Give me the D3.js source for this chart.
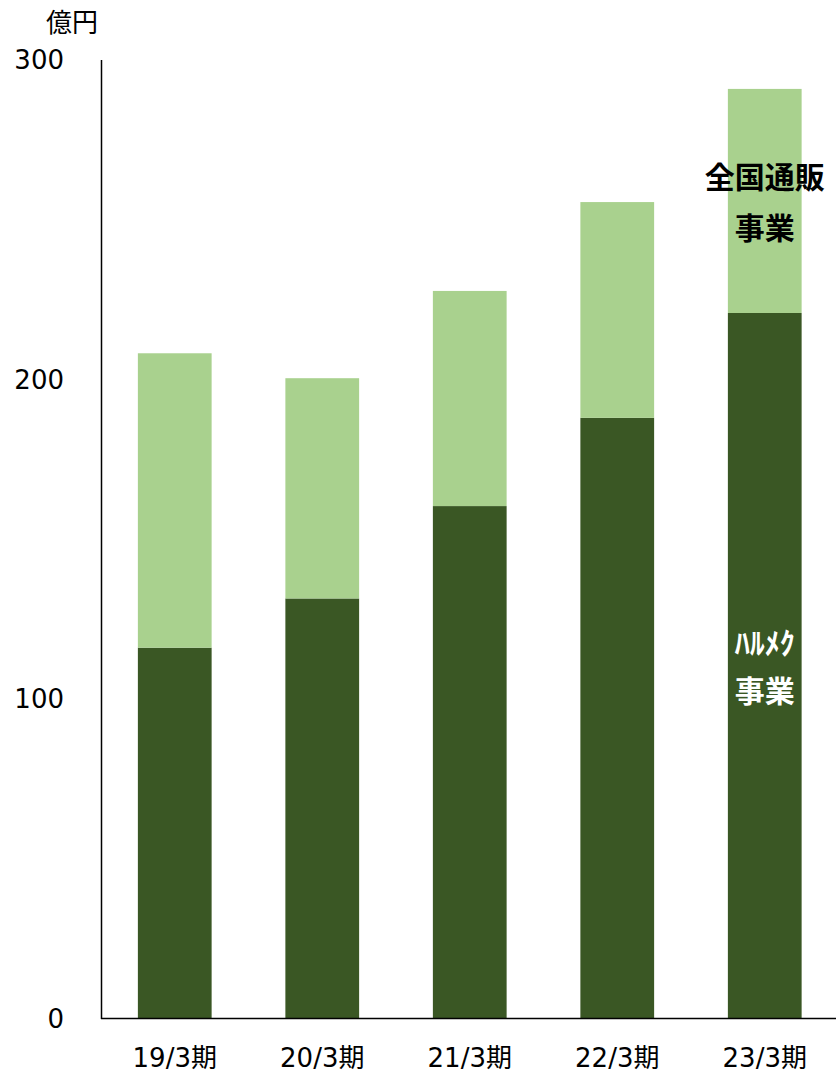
<!DOCTYPE html>
<html><head><meta charset="utf-8">
<script src="https://cdn.jsdelivr.net/npm/d3@7"></script>
<style>
body{margin:0;background:#fff;}
text{font-family:"DejaVu Sans","Noto Sans CJK JP",sans-serif;}
</style></head>
<body>
<svg id="c" width="836" height="1076"></svg>
<script>
const categories = ["19/3期","20/3期","21/3期","22/3期","23/3期"];
const harumekValues = [116.0, 131.4, 160.3, 187.9, 220.7];
const tsuhanValues = [92.1, 68.9, 67.3, 67.5, 70.1];
const tickValues = [0, 100, 200, 300];
const seriesNames = ["ハルメク事業","全国通販事業"];
const colors = ["#3A5724","#A9D18E"];

const svg = d3.select("#c");
const x = d3.scaleBand().domain(categories).range([101, 838.5]).paddingInner(0.5).paddingOuter(0.25);
const y = d3.scaleLinear().domain([0, 300]).range([1018.5, 59.5]);

const rows = categories.map((c,i)=>({cat:c, harumek:harumekValues[i], tsuhan:tsuhanValues[i]}));
const stack = d3.stack().keys(["harumek","tsuhan"])(rows);

svg.selectAll("g.s").data(stack).join("g").attr("fill",(d,i)=>colors[i])
  .selectAll("rect").data(d=>d).join("rect")
  .attr("x", d=>x(d.data.cat)).attr("width", x.bandwidth())
  .attr("y", d=>y(d[1])).attr("height", d=>y(d[0])-y(d[1]));

// y axis
const ya = svg.append("g").attr("transform","translate(101,0)")
  .call(d3.axisLeft(y).tickValues(tickValues).tickSize(0).tickPadding(37));
ya.select(".domain").attr("stroke","#000").attr("stroke-width",1.5);
ya.selectAll("text").attr("font-size",26).attr("fill","#000").attr("dy","0.35em")
  .style("font-family",'"DejaVu Sans","Noto Sans CJK JP",sans-serif');

// x axis
const xa = svg.append("g").attr("transform","translate(0,1018.5)")
  .call(d3.axisBottom(x).tickSize(0).tickPadding(30));
xa.select(".domain").attr("d","M101,0H836").attr("stroke","#000").attr("stroke-width",1.5);
xa.selectAll("text").attr("font-size",26).attr("fill","#000")
  .style("font-family",'"DejaVu Sans","Noto Sans CJK JP",sans-serif');

// unit
svg.append("text").attr("x",72).attr("y",23).attr("dy","0.35em").attr("text-anchor","middle")
  .attr("font-size",26).style("font-family",'"Noto Sans CJK JP",sans-serif').text("億円");

// series labels
const lx = x(categories[4]) + x.bandwidth()/2;
const lbl = [
  {t:"全国通販", y:177, c:"#000"},
  {t:"事業", y:228, c:"#000"},
  {t:"ﾊﾙﾒｸ", y:643, c:"#fff"},
  {t:"事業", y:691, c:"#fff"}
];
svg.selectAll("text.lbl").data(lbl).join("text").attr("class","lbl")
  .attr("x",lx).attr("y",d=>d.y).attr("dy","0.35em").attr("text-anchor","middle")
  .attr("font-size",30).attr("font-weight","bold").attr("fill",d=>d.c)
  .style("font-family",'"Noto Sans CJK JP",sans-serif').text(d=>d.t);
</script>
</body></html>
